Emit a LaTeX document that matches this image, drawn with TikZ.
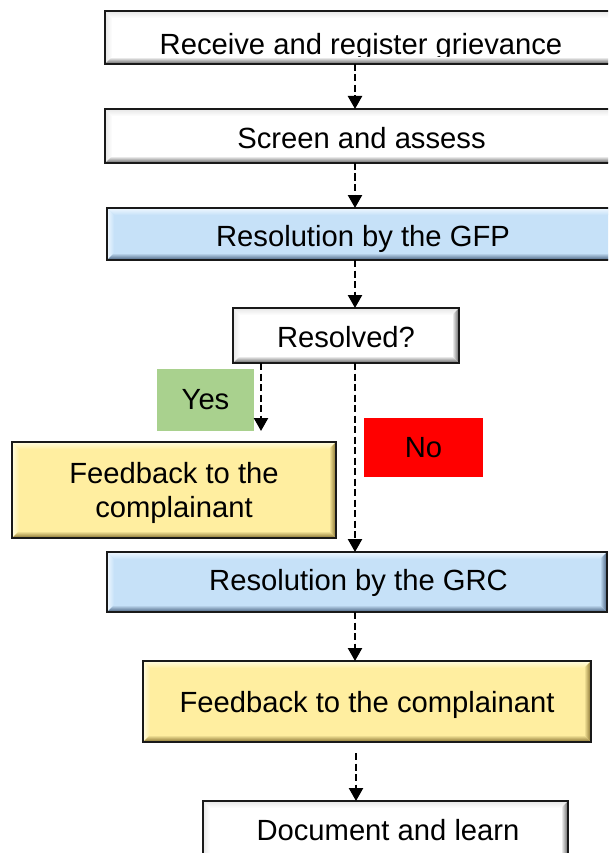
\documentclass[tikz,border=0pt]{standalone}
\usepackage{fontspec}
\setmainfont{Liberation Sans}
\usetikzlibrary{arrows.meta,calc}
\definecolor{bxblue}{RGB}{198,225,248}
\definecolor{bxbluedark}{RGB}{70,95,125}
\definecolor{bxbluelight}{RGB}{240,248,255}
\definecolor{bxyellow}{RGB}{255,238,160}
\definecolor{bxyellowdark}{RGB}{130,110,45}
\definecolor{bxyellowlight}{RGB}{255,252,225}
\definecolor{bxwhitedark}{RGB}{95,95,95}
\definecolor{bxwhitelight}{RGB}{230,230,230}
\definecolor{yesgreen}{RGB}{169,209,142}
\definecolor{nored}{RGB}{255,0,0}
\definecolor{bordc}{RGB}{25,25,25}
\newcommand{\bevelframe}[4]{%
 \shade[top color=#3, bottom color=#2] (#1.north west) -- (#1.north east) -- ($(#1.north east)+(-7,7)$) -- ($(#1.north west)+(7,7)$) -- cycle;
 \shade[left color=#3, right color=#2] (#1.north west) -- ($(#1.north west)+(7,7)$) -- ($(#1.south west)+(7,-7)$) -- (#1.south west) -- cycle;
 \shade[top color=#2, bottom color=#4] (#1.south west) -- ($(#1.south west)+(7,-7)$) -- ($(#1.south east)+(-7,-7)$) -- (#1.south east) -- cycle;
 \shade[left color=#2, right color=#4] (#1.south east) -- ($(#1.south east)+(-7,-7)$) -- ($(#1.north east)+(-7,7)$) -- (#1.north east) -- cycle;
 \draw[line width=2, draw=bordc] (#1.north west) rectangle (#1.south east);
}
\tikzset{
 bxs/.style={rectangle, inner sep=0, outer sep=0, anchor=north west},
 txt/.style={inner sep=0, outer sep=0, anchor=base, font=\fontsize{29.2pt}{34pt}\selectfont},
 lbl/.style={rectangle, inner sep=0, outer sep=0, font=\fontsize{29.2pt}{34pt}\selectfont},
 conn/.style={draw=black, line width=2.4, dash pattern=on 7pt off 3.5pt, -{Triangle[width=14pt,length=13pt]}},
}
\begin{document}
\begin{tikzpicture}[x=1pt,y=-1pt]
\clip (0,0) rectangle (608,853);
\useasboundingbox (0,0) rectangle (608,853);
% boxes
\node[bxs, fill=white, minimum width=512, minimum height=53] (b1) at (105,11) {};
\node[bxs, fill=white, minimum width=512, minimum height=54] (b2) at (105,109) {};
\node[bxs, fill=bxblue, minimum width=511, minimum height=52] (b3) at (107,208) {};
\node[bxs, fill=white, minimum width=226, minimum height=55] (b4) at (233,308) {};
\node[bxs, fill=bxyellow, minimum width=324, minimum height=96] (b5) at (12,442) {};
\node[bxs, fill=bxblue, minimum width=500, minimum height=60] (b6) at (107,552) {};
\node[bxs, fill=bxyellow, minimum width=448, minimum height=81] (b7) at (143,661) {};
\node[bxs, fill=white, minimum width=365, minimum height=80] (b8) at (203,801) {};
% texts
\node[txt] (t1) at (361,55) {Receive and register grievance};
\node[txt] (t2) at (361.5,149) {Screen and assess};
\node[txt] (t3) at (363,246) {Resolution by the GFP};
\node[txt] (t4) at (346,347) {Resolved?};
\node[txt] (t5a) at (174,483) {Feedback to the};
\node[txt] (t5b) at (174,517) {complainant};
\node[txt] (t6) at (358.5,590) {Resolution by the GRC};
\node[txt] (t7) at (367,712) {Feedback to the complainant};
\node[txt] (t8) at (388,840) {Document and learn};
% bevels
\bevelframe{b1}{white}{bxwhitelight}{bxwhitedark}
\bevelframe{b2}{white}{bxwhitelight}{bxwhitedark}
\bevelframe{b3}{bxblue}{bxbluelight}{bxbluedark}
\bevelframe{b4}{white}{bxwhitelight}{bxwhitedark}
\bevelframe{b5}{bxyellow}{bxyellowlight}{bxyellowdark}
\bevelframe{b6}{bxblue}{bxbluelight}{bxbluedark}
\bevelframe{b7}{bxyellow}{bxyellowlight}{bxyellowdark}
\bevelframe{b8}{white}{bxwhitelight}{bxwhitedark}
% labels
\node[lbl, fill=yesgreen, minimum width=97, minimum height=62] (yes) at (205.5,400) {Yes};
\node[lbl, fill=nored, minimum width=119, minimum height=59] (no) at (423.5,447.5) {No};
% connectors
\coordinate (ax) at (355,0);
\coordinate (ay) at (261,0);
\coordinate (yesend) at (261,431);
\coordinate (fbstart) at (356,753);
\draw[conn] (b1.south -| ax) -- (b2.north -| ax);
\draw[conn] (b2.south -| ax) -- (b3.north -| ax);
\draw[conn] (b3.south -| ax) -- (b4.north -| ax);
\draw[conn] (b4.south -| ay) -- (yesend);
\draw[conn] (b4.south -| ax) -- (b6.north -| ax);
\draw[conn] (b6.south -| ax) -- (b7.north -| ax);
\draw[conn] (fbstart) -- (b8.north -| fbstart);
\end{tikzpicture}
\end{document}
